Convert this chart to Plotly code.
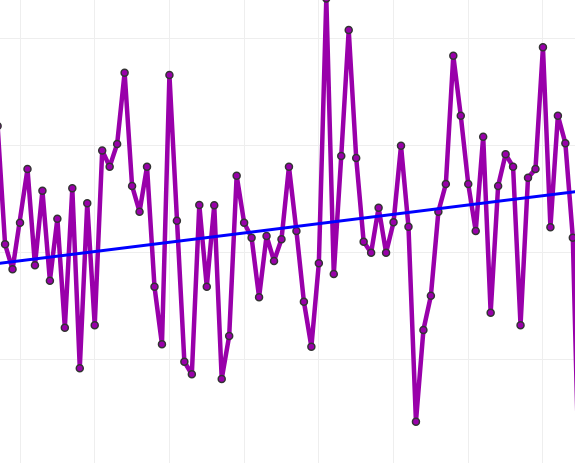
import plotly.graph_objects as go

# Series: x index and values
x_values = list(range(7, 86))
y_values = [
    2.18, 1.078, 0.845, 1.280, 1.780, 0.883, 1.578, 0.739, 1.317, 0.301,   # 7-16
    1.600, -0.077, 1.460, 0.323, 1.952, 1.802, 2.013, 2.678, 1.622, 1.382,  # 17-26
    1.802, 0.683, 0.146, 2.656, 1.298, -0.016, -0.133, 1.445, 0.683, 1.442, # 27-36
    -0.177, 0.224, 1.718, 1.280, 1.140, 0.584, 1.156, 0.923, 1.125, 1.802,  # 37-46
    1.202, 0.543, 0.124, 0.901, 3.37, 0.801, 1.901, 3.075, 1.883, 1.103,    # 47-56
    1.000, 1.419, 1.000, 1.283, 1.997, 1.242, -0.575, 0.280, 0.599, 1.382,  # 57-66
    1.640, 2.836, 2.277, 1.640, 1.202, 2.081, 0.441, 1.622, 1.917, 1.802,   # 67-76
    0.323, 1.699, 1.780, 2.914, 1.237, 2.277, 2.020, 1.140, -1.6,           # 77-85
]

# Linear trend line endpoints
trend_x = [7, 85]
trend_y = [0.898, 1.574]

fig = go.Figure()
fig.add_trace(go.Scatter(
    x=x_values, y=y_values, mode="lines+markers",
    line=dict(color="#9900AA", width=4.5),
    marker=dict(size=7, color="#9900AA", line=dict(color="#333333", width=1.5)),
    hoverinfo="skip", showlegend=False,
))
fig.add_trace(go.Scatter(
    x=trend_x, y=trend_y, mode="lines",
    line=dict(color="#0000FF", width=3),
    hoverinfo="skip", showlegend=False,
))

fig.update_layout(
    width=575, height=463,
    margin=dict(l=0, r=0, t=0, b=0),
    paper_bgcolor="white", plot_bgcolor="white",
    xaxis=dict(range=[7.32, 84.29], dtick=10, tick0=0, showticklabels=False,
               showgrid=True, gridcolor="#eeeeee", gridwidth=1,
               zeroline=False, showline=False, ticks=""),
    yaxis=dict(range=[-0.96, 3.355], dtick=1, tick0=0, showticklabels=False,
               showgrid=True, gridcolor="#eeeeee", gridwidth=1,
               zeroline=False, showline=False, ticks=""),
)

fig.write_html(
    "out.html",
    config={"displayModeBar": False},
    post_script="document.body.style.margin='0';document.body.style.padding='0';document.body.style.overflow='hidden';",
)
